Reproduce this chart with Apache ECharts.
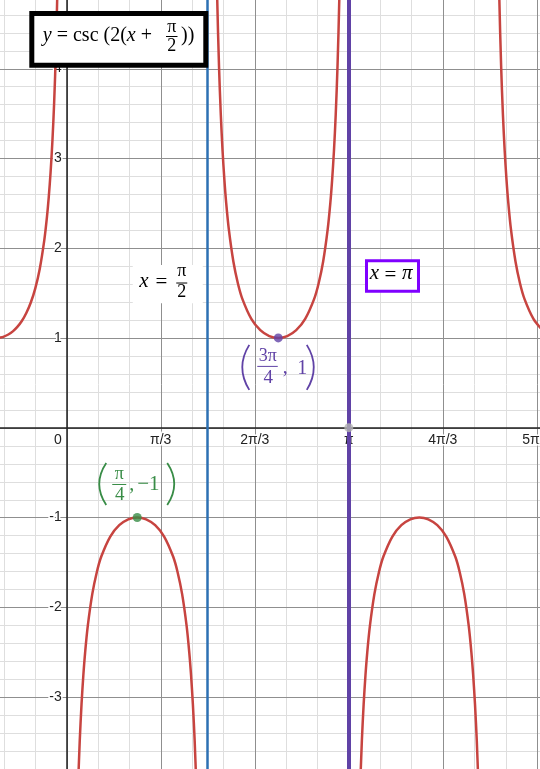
<!DOCTYPE html>
<html>
<head>
<meta charset="utf-8">
<style>
  html, body { margin: 0; padding: 0; background: #fff; }
  #chart { width: 540px; height: 769px; }
</style>
</head>
<body>
<div id="chart"></div>
<script src="https://cdn.jsdelivr.net/npm/echarts@6/dist/echarts.min.js"></script>
<script>
const PI = Math.PI;

// visible window, graph units
const X_MIN = -0.743, X_MAX = 5.271;
const Y_MIN = -3.801, Y_MAX = 4.763;

const xTickValues = [0, PI / 3, 2 * PI / 3, PI, 4 * PI / 3, 5 * PI / 3];
const xTickLabels = ['0', 'π/3', '2π/3', 'π', '4π/3', '5π/3'];
const yTickValues = [-3, -2, -1, 1, 2, 3, 4];
const yTickLabels = ['-3', '-2', '-1', '1', '2', '3', '4'];

// y = csc(2(x + π/2)), read branch by branch off the plot
const branchA = [[-0.76, 1.001], [-0.74, 1.004], [-0.70, 1.015], [-0.65, 1.038], [-0.60, 1.073],
  [-0.55, 1.122], [-0.50, 1.188], [-0.45, 1.277], [-0.40, 1.394], [-0.35, 1.552], [-0.30, 1.771],
  [-0.25, 2.086], [-0.22, 2.348], [-0.20, 2.568], [-0.18, 2.839], [-0.16, 3.179], [-0.14, 3.619],
  [-0.12, 4.207], [-0.10, 5.033]];
const branchB = [[0.125, -4.029], [0.145, -3.488], [0.165, -3.079], [0.185, -2.760], [0.205, -2.504],
  [0.235, -2.205], [0.285, -1.851], [0.335, -1.609], [0.385, -1.435], [0.485, -1.212], [0.585, -1.086],
  [0.685, -1.020], [0.785, -1.000], [0.885, -1.020], [0.985, -1.086], [1.085, -1.212], [1.185, -1.435],
  [1.235, -1.609], [1.285, -1.851], [1.335, -2.205], [1.365, -2.504], [1.385, -2.760], [1.405, -3.079],
  [1.425, -3.488], [1.445, -4.029]];
const branchC = [[1.656, 5.883], [1.676, 4.780], [1.696, 4.029], [1.716, 3.488], [1.736, 3.079],
  [1.756, 2.760], [1.776, 2.504], [1.806, 2.205], [1.856, 1.851], [1.906, 1.609], [1.956, 1.435],
  [2.056, 1.212], [2.156, 1.086], [2.256, 1.020], [2.356, 1.000], [2.456, 1.020], [2.556, 1.086],
  [2.656, 1.212], [2.756, 1.435], [2.806, 1.609], [2.856, 1.851], [2.906, 2.205], [2.936, 2.504],
  [2.956, 2.760], [2.976, 3.079], [2.996, 3.488], [3.016, 4.029], [3.036, 4.780], [3.056, 5.883]];
const branchD = [[3.267, -4.029], [3.287, -3.488], [3.307, -3.079], [3.327, -2.760], [3.347, -2.504],
  [3.377, -2.205], [3.427, -1.851], [3.477, -1.609], [3.527, -1.435], [3.627, -1.212], [3.727, -1.086],
  [3.827, -1.020], [3.927, -1.000], [4.027, -1.020], [4.127, -1.086], [4.227, -1.212], [4.327, -1.435],
  [4.377, -1.609], [4.427, -1.851], [4.477, -2.205], [4.507, -2.504], [4.527, -2.760], [4.547, -3.079],
  [4.567, -3.488], [4.587, -4.029]];
const branchE = [[4.798, 5.883], [4.818, 4.780], [4.838, 4.029], [4.858, 3.488], [4.878, 3.079],
  [4.898, 2.760], [4.918, 2.504], [4.948, 2.205], [4.998, 1.851], [5.048, 1.609], [5.098, 1.435],
  [5.198, 1.212], [5.298, 1.086]];

const markedPoints = [[PI / 4, -1], [3 * PI / 4, 1], [PI, 0]];
const pointColors = ['#388c46', '#6042a6', '#b3b3b3'];
const verticalLines = [PI / 2, PI];

const RED = '#c74440', BLUE = '#2d70b3', PURPLE = '#6042a6', GREEN = '#388c46';
const SERIF = "'Liberation Serif', 'DejaVu Serif', serif";
const SANS = "'Liberation Sans', Arial, sans-serif";

// grid lines: [value, 0 = vertical / 1 = horizontal, major?]
const gridLines = [];
for (let k = -2; k <= 15; k++) gridLines.push([k * PI / 9, 0, 0]);
for (let k = -19; k <= 23; k++) gridLines.push([k * 0.2, 1, 0]);
for (let k = 0; k <= 5; k++) gridLines.push([k * PI / 3, 0, 1]);
for (let k = -3; k <= 4; k++) gridLines.push([k, 1, 1]);

// tick labels: [value, 0 = x axis / 1 = y axis]
const tickItems = xTickValues.map(v => [v, 0]).concat(yTickValues.map(v => [v, 1]));
const tickText = xTickLabels.concat(yTickLabels);

const chart = echarts.init(document.getElementById('chart'), null, { renderer: 'canvas' });

const axisBase = {
  type: 'value',
  axisLine: { onZero: true, lineStyle: { color: '#222', width: 1.5 } },
  axisTick: { show: false },
  axisLabel: { show: false },
  splitLine: { show: false }
};

const option = {
  animation: false,
  grid: { left: 0, right: 0, top: 0, bottom: 0, containLabel: false, outerBoundsMode: 'none' },
  xAxis: Object.assign({ min: X_MIN, max: X_MAX }, axisBase),
  yAxis: Object.assign({ min: Y_MIN, max: Y_MAX }, axisBase),
  series: [
    {
      type: 'custom',
      z: -1,
      silent: true,
      data: gridLines,
      renderItem(params, api) {
        const v = api.value(0), dir = api.value(1), major = api.value(2);
        const cs = params.coordSys;
        const style = { stroke: major ? '#8f8f8f' : '#dedede', lineWidth: 1 };
        if (dir === 0) {
          const x = Math.round(api.coord([v, 0])[0]) + 0.5;
          return { type: 'line', shape: { x1: x, y1: cs.y, x2: x, y2: cs.y + cs.height }, style };
        }
        const y = Math.round(api.coord([0, v])[1]) + 0.5;
        return { type: 'line', shape: { x1: cs.x, y1: y, x2: cs.x + cs.width, y2: y }, style };
      }
    },
    {
      // axis numbers, placed through the axis scales
      type: 'custom',
      z: 1,
      silent: true,
      clip: false,
      data: tickItems,
      renderItem(params, api) {
        const v = api.value(0), dir = api.value(1);
        const text = tickText[params.dataIndex];
        const base = { text, fill: '#222', font: '14px ' + SANS, stroke: '#fff', lineWidth: 3 };
        if (dir === 0) {
          const pt = api.coord([v, 0]);
          const zero = Math.abs(v) < 1e-9;
          return { type: 'text', x: zero ? pt[0] - 5 : pt[0], y: pt[1] + 5,
            style: Object.assign(base, { align: zero ? 'right' : 'center', verticalAlign: 'top' }) };
        }
        const pt = api.coord([0, v]);
        return { type: 'text', x: pt[0] - 5, y: pt[1],
          style: Object.assign(base, { align: 'right', verticalAlign: 'middle' }) };
      }
    },
    ...[branchA, branchB, branchC, branchD, branchE].map((d, i) => ({
      type: 'line',
      data: d,
      smooth: 0.3,
      showSymbol: false,
      silent: true,
      z: 2,
      lineStyle: { color: RED, width: 2.5 },
      markLine: i === 0 ? {
        silent: true,
        symbol: ['none', 'none'],
        label: { show: false },
        data: [
          { xAxis: verticalLines[0], lineStyle: { color: BLUE, width: 2.5, type: 'solid' } },
          { xAxis: verticalLines[1], lineStyle: { color: PURPLE, width: 4, type: 'solid' } }
        ]
      } : undefined
    })),
    {
      type: 'scatter',
      z: 5,
      silent: true,
      symbolSize: 9,
      data: markedPoints.map((p, i) => ({ value: p, itemStyle: { color: pointColors[i] } }))
    }
  ]
};

chart.setOption(option);

// ---- math labels (Desmos-style) ----
function txt(x, y, text, fill, font, align) {
  return { type: 'text', z: 101, x, y, silent: true,
    style: { text, fill, font, align: align || 'center', verticalAlign: 'middle' } };
}
function bar(x1, x2, y, stroke) {
  return { type: 'line', z: 101, silent: true, shape: { x1, y1: y, x2, y2: y }, style: { stroke, lineWidth: 1 } };
}
function paren(x, yTop, yBot, bulge, stroke) {
  return { type: 'bezierCurve', z: 101, silent: true,
    shape: { x1: x, y1: yTop, x2: x, y2: yBot, cpx1: x + bulge, cpy1: (yTop + yBot) / 2 },
    style: { stroke, lineWidth: 1.8, fill: null } };
}

function buildAnnotations() {
  const P = (x, y) => chart.convertToPixel({ gridIndex: 0 }, [x, y]);
  const els = [];

  // expression card, top left
  els.push({ type: 'rect', z: 100, silent: true,
    shape: { x: 31.8, y: 13.5, width: 174, height: 51.7 },
    style: { fill: '#fff', stroke: '#000', lineWidth: 5 } });
  els.push({ type: 'text', z: 101, x: 157, y: 36, silent: true,
    style: { text: '{i|y} = csc (2({i|x} + ', font: '20px ' + SERIF, fill: '#000',
      align: 'right', verticalAlign: 'middle',
      rich: { i: { font: 'italic 20px ' + SERIF, fill: '#000' } } } });
  els.push(txt(171.7, 27, 'π', '#000', '18px ' + SERIF));
  els.push(bar(166, 177.5, 36.5, '#000'));
  els.push(txt(171.7, 46, '2', '#000', '18px ' + SERIF));
  els.push(txt(181, 36, '))', '#000', '20px ' + SERIF, 'left'));

  // (π/4, −1)
  const g = P(PI / 4, -1);
  els.push(paren(g[0] - 31, g[1] - 54.5, g[1] - 12.5, -14, GREEN));
  els.push(txt(g[0] - 18, g[1] - 43.5, 'π', GREEN, '18px ' + SERIF));
  els.push(bar(g[0] - 25, g[0] - 11, g[1] - 33, GREEN));
  els.push(txt(g[0] - 17.5, g[1] - 22.5, '4', GREEN, '19px ' + SERIF));
  els.push(txt(g[0] - 8, g[1] - 33, ',', GREEN, '20px ' + SERIF, 'left'));
  els.push(txt(g[0] + 0, g[1] - 33.5, '−1', GREEN, '21px ' + SERIF, 'left'));
  els.push(paren(g[0] + 30, g[1] - 54.5, g[1] - 12.5, 14, GREEN));

  // (3π/4, 1)
  const p = P(3 * PI / 4, 1);
  els.push(paren(p[0] - 29, p[1] + 7, p[1] + 52, -14, PURPLE));
  els.push(txt(p[0] - 10.5, p[1] + 18, '3π', PURPLE, '18px ' + SERIF));
  els.push(bar(p[0] - 21, p[0] - 0.5, p[1] + 28.5, PURPLE));
  els.push(txt(p[0] - 10, p[1] + 40, '4', PURPLE, '19px ' + SERIF));
  els.push(txt(p[0] + 4.5, p[1] + 29.5, ',', PURPLE, '20px ' + SERIF, 'left'));
  els.push(txt(p[0] + 19, p[1] + 30.5, '1', PURPLE, '20px ' + SERIF, 'left'));
  els.push(paren(p[0] + 28.5, p[1] + 7, p[1] + 52, 14, PURPLE));

  // x = π/2 tag
  const a = P(PI / 2, 1.6);
  els.push({ type: 'rect', z: 100, silent: true,
    shape: { x: a[0] - 75, y: a[1] - 19, width: 70, height: 38.3 }, style: { fill: '#fff' } });
  els.push(txt(a[0] - 63.8, a[1] - 3, 'x', '#000', 'italic 21px ' + SERIF));
  els.push(txt(a[0] - 46.3, a[1] - 1.5, '=', '#000', '21px ' + SERIF));
  els.push(txt(a[0] - 26, a[1] - 12.5, 'π', '#000', '18px ' + SERIF));
  els.push(bar(a[0] - 31.5, a[0] - 20.5, a[1] - 1, '#000'));
  els.push(txt(a[0] - 26, a[1] + 8.5, '2', '#000', '18px ' + SERIF));

  // x = π tag
  const b = P(PI, 1.69);
  els.push({ type: 'rect', z: 100, silent: true,
    shape: { x: b[0] + 17.7, y: b[1] - 15.2, width: 52, height: 30.4 },
    style: { fill: '#fff', stroke: '#7f00ff', lineWidth: 3 } });
  els.push(txt(b[0] + 25.5, b[1] - 2, 'x', '#000', 'italic 21px ' + SERIF));
  els.push(txt(b[0] + 41.5, b[1] - 0.5, '=', '#000', '21px ' + SERIF));
  els.push(txt(b[0] + 58.5, b[1] - 2, 'π', '#000', 'italic 21px ' + SERIF));

  chart.setOption({ graphic: { elements: els } });
}

buildAnnotations();
</script>
</body>
</html>
